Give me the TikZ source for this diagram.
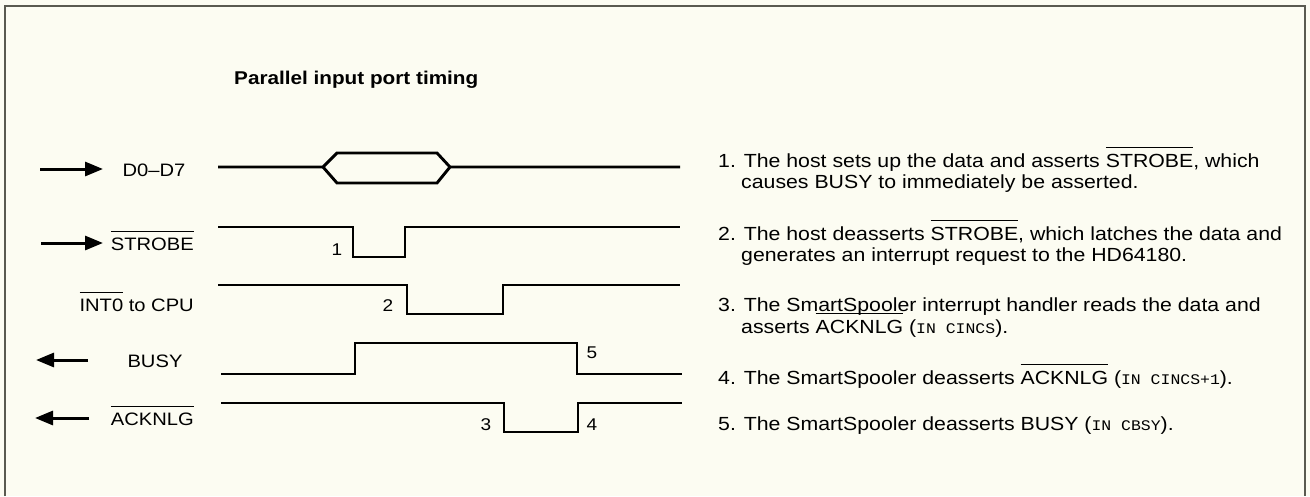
\documentclass[tikz,border=0pt]{standalone}
\usepackage{fontspec}
\setmainfont{Liberation Sans}[FakeStretch=1.12]
\newfontfamily\monof[FakeStretch=1.12]{Liberation Mono}
\usetikzlibrary{arrows.meta}
\definecolor{paper}{HTML}{FCFCF2}
\definecolor{framec}{HTML}{5A5A50}
\newsavebox\ovlbox
\newcommand\ovl[1]{\sbox\ovlbox{#1}\rlap{\raisebox{\dimexpr\ht\ovlbox+0.28em\relax}{\rule{\wd\ovlbox}{0.075em}}}\usebox\ovlbox}
\newcommand\mon[1]{{\monof\fontsize{14.7}{17}\selectfont #1}}
\tikzset{
  wave/.style={line width=2.9pt, line join=miter, line cap=butt},
  lbl/.style={inner sep=0pt, font=\fontsize{18}{22}\selectfont},
  body/.style={inner sep=0pt, anchor=base west, font=\fontsize{19}{22}\selectfont},
  num/.style={inner sep=0pt, anchor=base, font=\fontsize{17}{20}\selectfont},
  sigarrow/.style={line width=3pt, -{Triangle[length=18pt,width=14pt]}},
  titlefont/.style={inner sep=0pt, anchor=base west, font=\fontsize{18.5}{22}\selectfont\bfseries}
}
\begin{document}
\begin{tikzpicture}[x=1pt,y=-1pt]
\useasboundingbox (0,0) rectangle (1310,496);
\fill[paper] (0,0) rectangle (1310,496);
\draw[framec, line width=1.5pt] (5,496) -- (5,6) -- (1305,6) -- (1305,496);

\node[titlefont] (title) at (234,84) {Parallel input port timing};

% left labels
\node[lbl, anchor=base] (ld) at (154,176) {D0--D7};
\node[lbl, anchor=base east] (ls) at (194,250) {\ovl{STROBE}};
\node[lbl, anchor=base east] (li) at (194,311) {\ovl{INT0} to CPU};
\node[lbl, anchor=base] (lb) at (155,367) {BUSY};
\node[lbl, anchor=base east] (la) at (194,425) {\ovl{ACKNLG}};

% signal direction arrows
\coordinate (d0a) at (40,169);  \coordinate (d0b) at (103,169);
\coordinate (sta) at (41,243);  \coordinate (stb) at (103,243);
\coordinate (bua) at (88,360);  \coordinate (bub) at (36,360);
\coordinate (aca) at (89,418);  \coordinate (acb) at (35,418);
\draw[sigarrow] (d0a) -- (d0b);
\draw[sigarrow] (sta) -- (stb);
\draw[sigarrow] (bua) -- (bub);
\draw[sigarrow] (aca) -- (acb);

% waveforms
\draw[wave] (218,167) -- (323,167) -- (337,153) -- (437,153) -- (450,167) -- (680,167);
\draw[wave] (323,167) -- (337,183) -- (437,183) -- (450,167);
\draw[wave] (218,227) -- (353,227) -- (353,257) -- (405,257) -- (405,227) -- (680,227);
\draw[wave] (218,285) -- (407,285) -- (407,314) -- (503,314) -- (503,285) -- (680,285);
\draw[wave] (221,374) -- (355,374) -- (355,343) -- (577,343) -- (577,374) -- (682,374);
\draw[wave] (221,403) -- (504,403) -- (504,432) -- (578,432) -- (578,403) -- (682,403);

% event numbers
\node[num] (n1) at (337,255) {1};
\node[num] (n2) at (388,311) {2};
\node[num] (n5) at (592,358) {5};
\node[num] (n3) at (486,430) {3};
\node[num] (n4) at (592,430) {4};

% explanations
\node[body] (t1a) at (718,167) {1. The host sets up the data and asserts \ovl{STROBE}, which};
\node[body] (t1b) at (741,188) {causes BUSY to immediately be asserted.};
\node[body] (t2a) at (718,240) {2. The host deasserts \ovl{STROBE}, which latches the data and};
\node[body] (t2b) at (741,261) {generates an interrupt request to the HD64180.};
\node[body] (t3a) at (718,311) {3. The SmartSpooler interrupt handler reads the data and};
\node[body] (t3b) at (741,333) {asserts \ovl{ACKNLG} (\mon{IN CINCS}).};
\node[body] (t4) at (718,384) {4. The SmartSpooler deasserts \ovl{ACKNLG} (\mon{IN CINCS+1}).};
\node[body] (t5) at (718,430) {5. The SmartSpooler deasserts BUSY (\mon{IN CBSY}).};
\end{tikzpicture}
\end{document}
